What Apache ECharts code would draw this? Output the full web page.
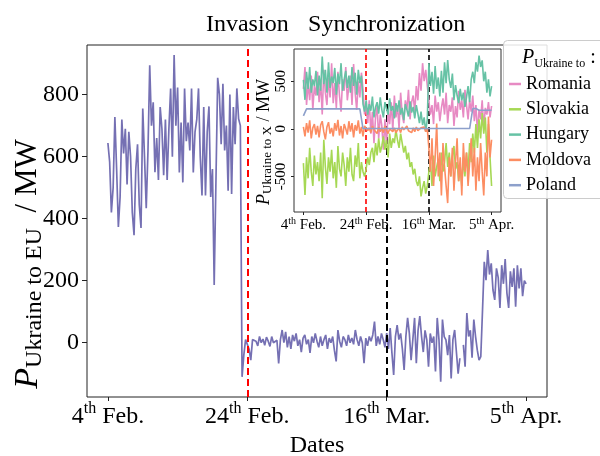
<!DOCTYPE html>
<html><head><meta charset="utf-8">
<script src="https://cdn.jsdelivr.net/npm/echarts@6/dist/echarts.min.js"></script>
<style>html,body{margin:0;padding:0;background:#fff}#c{width:600px;height:456px}</style>
</head><body><div id="c"></div>
<script>
// ---------- data ----------
const STEP_MAIN = 0.25;   // days between samples (main series)
const STEP_INSET = 0.5;   // days between samples (inset series)
const dateTicks = [0, 20, 40, 60];            // days after 4 Feb
const dateDay = ['4', '24', '16', '5'];
const dateMonth = ['Feb.', 'Feb.', 'Mar.', 'Apr.'];
const eventDays = [20, 40];
const eventNames = ['Invasion', 'Synchronization'];
const mainYTicks = [0, 200, 400, 600, 800];
const insetYTicks = [-500, 0, 500];

const ukraineToEU = [
  644, 583, 420, 500,  728, 560, 373, 470,  720, 610, 690, 510,  680, 600, 420, 347,  560, 640, 445, 370,
  755, 600, 434, 620,  895, 700, 775, 550,  660, 525, 760, 690,  540, 720, 525, 690,  820, 600, 928, 700,
  823, 549, 710, 517,  820, 650, 710, 620,  820, 549, 680, 720,  820, 600, 475, 760,  475, 680, 762, 470,
  560, 186, 180, 854,  800, 640, 835, 620,  700, 490, 800, 480,  760, 640, 820, 722,  700, -110, -40, 10,
  9, -20, -56, 10,  15, 5, -10, 20,  0, 12, -8, 18,  5, -12, 20, 0,  -5, 8, -67, 10,
  41, 0, 35, -15,  20, -20, 25, 5,  30, -10, 10, -30,  15, 25, -5, 10,  -33, 20, 0, 30,
  5, -15, 20, -10,  10, 25, -20, 15,  0, 20, -25, -60,  41, 5, -15, 20,  10, -10, 25, 0,
  15, -5, 41, 10,  -10, 20, 0, -66,  15, -10, 20, 5,  25, 68, -10, 20,  -5, 30, 10, -15,
  31, -20, 47, -33,  -104, 20, 57, 10,  30, -20, -88, 20,  80, 30, -56, 10,  80, -66, 40, 86,
  20, -30, 40, 10,  -77, 30, 0, 20,  -93, 80, 10, -126,  75, 20, 9, -40,  25, -115, 10, 41,
  41, -100, -50, null,  -7, -77, 96, 20,  40, -48, 75, 20,  -24, -56, -45, 106,  261, 202, 299, 220,
  256, 170, 138, 240,  210, 112, 250, 190,  270, 160, 112, 230,  180, 240, 116, 250,  175, 240, 150, 200,
  190
];

const romania = [
  420, 650, 250, 480, 300, 560, 200, 450, 350, 600,
  280, 500, 150, 620, 380, 250, 540, 330, 690, 270,
  480, 220, 600, 350, 180, 520, 400, 650, 300, 450,
  560, 250, 680, 380, 200, 500, 330, 590, 420, 150,
  250, 60, 300, -50, 180, -150, 120, 240, -100, 150,
  30, -220, 100, -180, 200, 50, 280, -20, 350, 120,
  250, 0, 380, 150, 60, 300, 200, 410, 100, 280,
  350, 180, 450, 300, 585, 400, 690, 500, 620, 450,
  300, 150, 250, 50, 350, 180, 280, 80, 220, 320,
  150, 380, 60, 250, 180, 330, 30, 240, 120, 400,
  200, 300, 120, 410, 250, 100, 300, 180, 350, 80,
  250, -50, 200, 100, 300, 0, 220, 150, 280, 120,
  240
];
const slovakia = [
  -360, -695, -300, -520, -200, -450, -600, -280, -480, -350,
  -550, -250, -730, -115, -400, -580, -300, -450, -220, -520,
  -350, -620, -180, -420, -500, -250, -380, -600, -300, -450,
  -200, -480, -550, -280, -400, -150, -520, -350, -450, -500,
  -420, -300, -380, -250, -200, -350, -150, -280, -100, -250,
  -180, -80, -220, -120, -300, -50, -200, -100, -150, -10,
  -120, -200, -50, -150, -250, -180, -320, -250, -400, -350,
  -480, -420, -550, -600, -500, -710, -620, -550, -680, -600,
  -450, -350, -600, -280, -500, -400, -320, -550, -250, -450,
  -350, -150, -400, -250, -500, -300, -180, -420, -350, -550,
  -400, -600, -300, -500, -250, -450, -150, -350, -50, -250,
  50, -200, 100, -100, 165, -50, 120, -250, 50, -300,
  -600
];
const hungary = [
  515, 305, 600, 420, 650, 380, 520, 450, 610, 350,
  560, 400, 760, 470, 620, 380, 700, 430, 550, 480,
  640, 360, 580, 470, 690, 400, 520, 610, 430, 560,
  380, 650, 450, 590, 360, 620, 480, 560, 260, 180,
  300, 150, 260, 190, 340, 120, 230, 280, 160, 330,
  200, 120, 280, 210, 150, 320, 190, 240, 110, 270,
  180, 300, 150, 220, 90, 260, 200, 130, 290, 170,
  230, 110, 250, 160, 60, 180, 40, 120, -30, 100,
  690, 450, 600, 370, 660, 420, 540, 340, 610, 380,
  700, 480, 722, 520, 430, 580, 300, 460, 350, 270,
  420, 300, 380, 230, 330, 450, 280, 520, 600, 480,
  700, 600, 770, 650, 720, 500, 600, 380, 520, 340,
  450
];
const moldova = [
  20, -80, 60, -40, 90, -100, 10, 50, -60, 30,
  -90, 40, 80, -30, -110, 20, 70, -50, 10, -80,
  60, -20, 95, -70, 30, -100, 50, 0, -60, 80,
  -30, 60, -90, 40, -20, 90, -50, 20, -80, 30,
  40, -20, 10, -40, 30, -10, 0, -50, 20, -30,
  10, -40, 30, -20, -50, 0, 20, -30, 10, -40,
  -20, 10, -40, 20, -10, -30, 30, -20, 0, -40,
  10, -30, 20, -20, -40, 10, -10, 20, -30, 0,
  -200, -450, -100, -600, -300, 56, -500, -250, -700, -150,
  -400, -600, -780, -300, -500, -200, -650, -350, -100, -550,
  -300, -700, -150, -450, -250, -600, -350, -100, -500, -200,
  -650, -300, -550, -150, -450, -700, -250, -500, 130, -300,
  -115
];
const poland = [
  137, 137,
  210, 210, 210, 210, 210, 210,
  210, 210, 210, 210, 210, 210,
  210, 210, 210, 210, 210, 210,
  210, 210, 210, 210, 210, 210,
  210, 210, 210, 210, 210, 210,
  210, 210, 210, 210, 210, 210,
  3, 3, 3, 3, 3, 3, 3, 3, 3, 3,
  3, 3, 3, 3, 3, 3, 3, 3, 3, 3,
  3, 3, 3, 3, 3, 3, 3, 3, 3, 3,
  3, 3, 3, 3, 3, 3, 3, 3, 3, 3,
  3, 3, 3, 3, 3, 3, 3, 3, 3, 3,
  3, 3, 3, 3, 3, 3, 3, 3, 3, 3,
  3, 3, 3, 3, 3, 3, 3, 3, 3, 3,
  213, 213, 213, 213,
  195, 195, 195, 195, 195, 195, 195, 195, 195
];
const countryNames = ['Romania', 'Slovakia', 'Hungary', 'Moldova', 'Poland'];
const countryValues = [romania, slovakia, hungary, moldova, poland];
const countryColors = ['#e78ac3', '#a6d854', '#66c2a5', '#fc8d62', '#8da0cb'];

// ---------- chart ----------
const FF = 'Liberation Serif';
const toPairs = (arr, step) => arr.map((v, i) => [i * step, v]);
const dateFmt = (v) => {
  const i = dateTicks.indexOf(v);
  return i < 0 ? '' : '{n|' + dateDay[i] + '}{s|th}{n| ' + dateMonth[i] + '}';
};
const richDates = (big, small, lh) => ({
  n: { fontFamily: FF, fontSize: big, color: '#000', lineHeight: lh },
  s: { fontFamily: FF, fontSize: small, color: '#000', lineHeight: small, verticalAlign: 'top' }
});

const chart = echarts.init(document.getElementById('c'), null, { renderer: 'canvas' });

const insetSeries = countryNames.map((name, k) => ({
  name: name,
  type: 'line',
  xAxisIndex: 2,
  yAxisIndex: 1,
  data: toPairs(countryValues[k], STEP_INSET),
  showSymbol: false,
  symbol: 'none',
  z: 5,
  lineStyle: { width: 1.6, color: countryColors[k] },
  itemStyle: { color: countryColors[k] },
  animation: false
}));
insetSeries[4].markLine = {
  symbol: 'none', silent: true, label: { show: false },
  data: [
    { xAxis: eventDays[0], lineStyle: { color: '#ff0000', type: [5, 3], width: 1.6 } },
    { xAxis: eventDays[1], lineStyle: { color: '#000000', type: [5, 3], width: 1.6 } }
  ]
};

chart.setOption({
  backgroundColor: '#fff',
  animation: false,
  grid: [
    { left: 87, top: 45, width: 460, height: 352, show: true, borderColor: '#222', borderWidth: 1,
      backgroundColor: '#fff', containLabel: false, outerBoundsMode: 'none' },
    { left: 294, top: 49, width: 207, height: 163, show: false, containLabel: false, outerBoundsMode: 'none' }
  ],
  xAxis: [
    {
      type: 'value', gridIndex: 0, min: -3, max: 63, position: 'bottom',
      axisLine: { show: false, onZero: false },
      axisTick: { show: true, customValues: dateTicks, length: 4, lineStyle: { color: '#222' } },
      axisLabel: { customValues: dateTicks, formatter: dateFmt, margin: 4, rich: richDates(24, 16, 32) },
      splitLine: { show: false },
      name: 'Dates', nameLocation: 'middle', nameGap: 32,
      nameTextStyle: { fontFamily: FF, fontSize: 24, color: '#000' }
    },
    {
      type: 'value', gridIndex: 0, min: -3, max: 63, position: 'top',
      axisLine: { show: false, onZero: false },
      axisTick: { show: false },
      axisLabel: {
        customValues: eventDays, margin: 8,
        formatter: (v) => eventNames[eventDays.indexOf(v)] || '',
        fontFamily: FF, fontSize: 24, color: '#000'
      },
      splitLine: { show: false }
    },
    {
      type: 'value', gridIndex: 1, min: -3, max: 63, position: 'bottom',
      axisLine: { show: false, onZero: false },
      axisTick: { show: true, customValues: dateTicks, length: 3, lineStyle: { color: '#222' } },
      axisLabel: { customValues: dateTicks, formatter: dateFmt, margin: 4, rich: richDates(15, 10, 19) },
      splitLine: { show: false }
    }
  ],
  yAxis: [
    {
      type: 'value', gridIndex: 0, min: -175, max: 960,
      axisLine: { show: false, onZero: false },
      axisTick: { show: true, customValues: mainYTicks, length: 5, lineStyle: { color: '#222' } },
      axisLabel: { customValues: mainYTicks, margin: 8, fontFamily: FF, fontSize: 24, color: '#000' },
      splitLine: { show: false }
    },
    {
      type: 'value', gridIndex: 1, min: -874, max: 839,
      axisLine: { show: false, onZero: false },
      axisTick: { show: true, customValues: insetYTicks, length: 3, lineStyle: { color: '#222' } },
      axisLabel: { customValues: insetYTicks, rotate: 90, margin: 5, fontFamily: FF, fontSize: 15, color: '#000' },
      splitLine: { show: false }
    }
  ],
  legend: {
    orient: 'vertical', left: 509, top: 74, padding: 0,
    itemWidth: 12, itemHeight: 2.5, itemGap: 5.3, icon: 'rect',
    textStyle: { fontFamily: FF, fontSize: 18, color: '#000', lineHeight: 20 },
    data: countryNames, z: 12, selectedMode: false
  },
  graphic: [
    { type: 'rect', z: 3, silent: true, shape: { x: 294, y: 49, width: 207, height: 163 },
      style: { fill: '#fff', stroke: '#333', lineWidth: 1 } },
    { type: 'rect', z: 10, silent: true, shape: { x: 503.5, y: 40.5, width: 110, height: 158, r: 4 },
      style: { fill: 'rgba(255,255,255,0.85)', stroke: '#cccccc', lineWidth: 1 } },
    { type: 'text', z: 12, silent: true, x: 522, y: 58,
      style: {
        text: '{p|P}{s|Ukraine to}{c| :}', align: 'left', verticalAlign: 'middle',
        rich: {
          p: { fontFamily: FF, fontStyle: 'italic', fontSize: 20, lineHeight: 24, fill: '#000' },
          s: { fontFamily: FF, fontSize: 12, lineHeight: 12, verticalAlign: 'bottom', fill: '#000' },
          c: { fontFamily: FF, fontSize: 20, lineHeight: 24, fill: '#000' }
        }
      } },
    { type: 'text', z: 12, silent: true, x: 28, y: 264, rotation: Math.PI / 2,
      style: {
        text: '{p|P}{s|Ukraine to EU}{m|  / MW}', align: 'center', verticalAlign: 'middle',
        rich: {
          p: { fontFamily: FF, fontStyle: 'italic', fontSize: 34, lineHeight: 38, fill: '#000' },
          s: { fontFamily: FF, fontSize: 24, lineHeight: 23, verticalAlign: 'bottom', fill: '#000' },
          m: { fontFamily: FF, fontSize: 31, lineHeight: 38, fill: '#000' }
        }
      } },
    { type: 'text', z: 12, silent: true, x: 264, y: 142, rotation: Math.PI / 2,
      style: {
        text: '{p|P}{s|Ukraine to X}{m| / MW}', align: 'center', verticalAlign: 'middle',
        rich: {
          p: { fontFamily: FF, fontStyle: 'italic', fontSize: 18, lineHeight: 21, fill: '#000' },
          s: { fontFamily: FF, fontSize: 13, lineHeight: 13, verticalAlign: 'bottom', fill: '#000' },
          m: { fontFamily: FF, fontSize: 18, lineHeight: 21, fill: '#000' }
        }
      } }
  ],
  series: [
    {
      name: 'Ukraine to EU', type: 'line', xAxisIndex: 0, yAxisIndex: 0,
      data: toPairs(ukraineToEU, STEP_MAIN),
      showSymbol: false, symbol: 'none', z: 2,
      lineStyle: { width: 1.7, color: '#7570b3' },
      markLine: {
        symbol: 'none', silent: true, label: { show: false },
        data: [
          { xAxis: eventDays[0], lineStyle: { color: '#ff0000', type: [7, 4], width: 2 } },
          { xAxis: eventDays[1], lineStyle: { color: '#000000', type: [7, 4], width: 2 } }
        ]
      }
    }
  ].concat(insetSeries)
});
</script></body></html>
